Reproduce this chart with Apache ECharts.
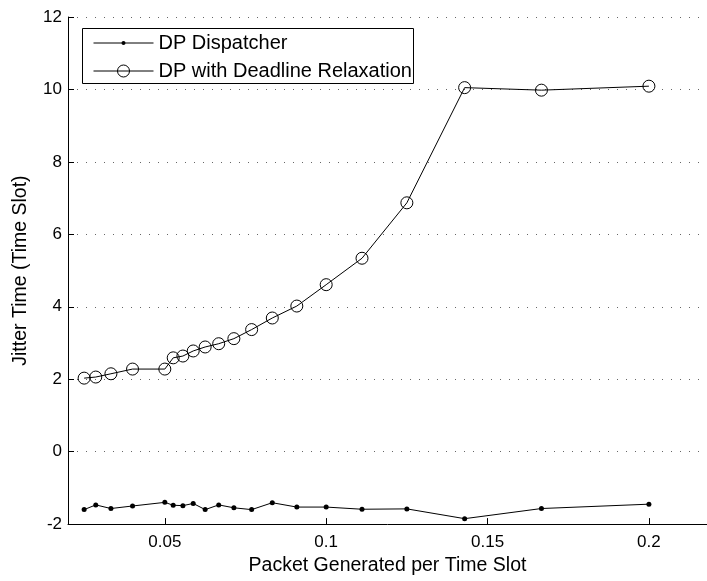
<!DOCTYPE html>
<html>
<head>
<meta charset="utf-8">
<script src="https://cdn.jsdelivr.net/npm/echarts@6/dist/echarts.min.js"></script>
<style>html,body{margin:0;padding:0;background:#fff}#c{width:707px;height:581px}</style>
</head>
<body>
<div id="c"></div>
<script>
var xValues = [0.025, 0.0286, 0.0333, 0.04, 0.05, 0.0526, 0.0556, 0.0588, 0.0625, 0.0667, 0.0714, 0.0769, 0.0833, 0.0909, 0.1, 0.1111, 0.125, 0.1429, 0.1667, 0.2];
var dispatcher = [-1.60, -1.47, -1.57, -1.50, -1.40, -1.48, -1.49, -1.43, -1.60, -1.47, -1.55, -1.60, -1.41, -1.53, -1.53, -1.59, -1.58, -1.85, -1.57, -1.45];
var relaxation = [2.03, 2.06, 2.15, 2.28, 2.28, 2.59, 2.64, 2.78, 2.89, 2.98, 3.12, 3.37, 3.69, 4.02, 4.61, 5.34, 6.87, 10.05, 9.98, 10.09];
var xTicks = [0.05, 0.1, 0.15, 0.2];
var yTicks = [-2, 0, 2, 4, 6, 8, 10, 12];
var seriesNames = ['DP Dispatcher', 'DP with Deadline Relaxation'];

function pairs(xs, ys) { return xs.map(function (x, i) { return [x, ys[i]]; }); }

var font = 'Liberation Sans, Arial, Helvetica, sans-serif';
var legendText = { fontFamily: font, fontSize: 20, color: '#000' };
var chart = echarts.init(document.getElementById('c'), null, { renderer: 'canvas' });
chart.setOption({
  animation: false,
  backgroundColor: '#fff',
  grid: { left: 68, right: 0, top: 17, bottom: 55 },
  graphic: [{
    type: 'rect', z: 3, left: 82, top: 28,
    shape: { width: 331, height: 55 },
    style: { fill: '#fff', stroke: '#000', lineWidth: 1 }
  }],
  legend: [
    {
      orient: 'vertical', left: 93, top: 33, padding: 0, z: 5,
      itemWidth: 60, itemHeight: 5, itemGap: 8,
      lineStyle: { width: 1 },
      textStyle: legendText,
      data: [seriesNames[0]]
    },
    {
      orient: 'vertical', left: 93, top: 61, padding: 0, z: 5,
      itemWidth: 60, itemHeight: 15, itemGap: 8,
      lineStyle: { width: 1 },
      itemStyle: { color: 'rgba(0,0,0,0)', borderColor: '#000', borderWidth: 1 },
      textStyle: legendText,
      data: [seriesNames[1]]
    }
  ],
  xAxis: {
    type: 'value', min: 0.02, max: 0.218,
    name: 'Packet Generated per Time Slot', nameLocation: 'middle', nameGap: 30,
    nameTextStyle: { fontFamily: font, fontSize: 19.5, color: '#000' },
    axisLine: { show: true, onZero: false, lineStyle: { color: '#000', width: 1 } },
    axisTick: { show: true, inside: true, length: 6, customValues: xTicks, lineStyle: { color: '#000' } },
    axisLabel: { customValues: xTicks, fontFamily: font, fontSize: 17, color: '#000', margin: 10 },
    splitLine: { show: false }
  },
  yAxis: {
    type: 'value', min: -2, max: 12, interval: 2,
    name: 'Jitter Time (Time Slot)', nameLocation: 'middle', nameGap: 37,
    nameTextStyle: { fontFamily: font, fontSize: 19.5, color: '#000' },
    axisLine: { show: true, onZero: false, lineStyle: { color: '#000', width: 1 } },
    axisTick: { show: true, inside: true, length: 6, lineStyle: { color: '#000' } },
    axisLabel: { fontFamily: font, fontSize: 17, color: '#000', margin: 6 },
    splitLine: { show: true, lineStyle: { color: '#666', width: 1, type: [1, 8] } }
  },
  series: [
    {
      name: seriesNames[0], type: 'line', data: pairs(xValues, dispatcher),
      symbol: 'circle', symbolSize: 5,
      lineStyle: { color: '#000', width: 1 },
      itemStyle: { color: '#000' }
    },
    {
      name: seriesNames[1], type: 'line', data: pairs(xValues, relaxation),
      symbol: 'circle', symbolSize: 12,
      lineStyle: { color: '#000', width: 1 },
      itemStyle: { color: 'rgba(0,0,0,0)', borderColor: '#000', borderWidth: 1 }
    }
  ]
});
</script>
</body>
</html>
